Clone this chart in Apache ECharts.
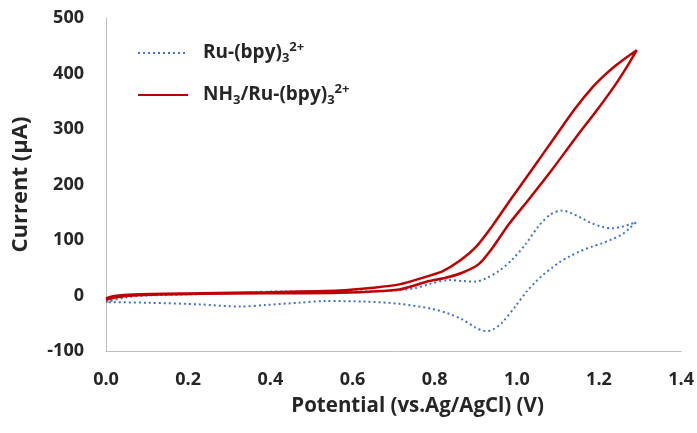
<!DOCTYPE html>
<html>
<head>
<meta charset="utf-8">
<script src="https://cdn.jsdelivr.net/npm/echarts@6/dist/echarts.min.js"></script>
<style>
html, body { margin: 0; padding: 0; background: #fff; }
#chart { width: 697px; height: 433px; }
</style>
</head>
<body>
<div id="chart"></div>
<script>
// Ru-(bpy)3 2+ : forward scan then reverse scan (one closed loop)
var ruPotential = [0, 0.05, 0.1, 0.2, 0.3, 0.4, 0.5, 0.6, 0.7, 0.75, 0.79, 0.835, 0.87, 0.9, 0.925, 0.956, 0.989, 1.021, 1.053, 1.082, 1.11, 1.134, 1.159, 1.183, 1.207, 1.231, 1.256, 1.274, 1.29,
                   1.274, 1.256, 1.231, 1.207, 1.183, 1.155, 1.13, 1.106, 1.086, 1.065, 1.045, 1.025, 0.997, 0.964, 0.94, 0.924, 0.9, 0.867, 0.835, 0.794, 0.714, 0.633, 0.536, 0.47, 0.39, 0.325, 0.228, 0.1, 0];
var ruCurrent = [-12, -3, 0, 2, 4, 7, 7, 7, 9, 13, 21, 28, 26, 25, 31, 44, 65, 92, 125, 146, 153, 148, 139, 130, 124, 121, 124, 128, 132,
                 121, 110, 101, 94, 88, 80, 71, 61, 50, 38, 24, 8, -19, -49, -62, -64, -58, -43, -33, -24, -15, -11, -10, -13, -17, -20, -16, -13, -12];

// NH3/Ru-(bpy)3 2+
var nh3Potential = [0, 0.02, 0.066, 0.228, 0.39, 0.568, 0.65, 0.714, 0.78, 0.82, 0.86, 0.9, 0.94, 0.985, 1.037, 1.094, 1.142, 1.185, 1.215, 1.24, 1.265, 1.292,
                    1.272, 1.24, 1.199, 1.142, 1.086, 1.03, 0.98, 0.94, 0.908, 0.867, 0.827, 0.786, 0.714, 0.568, 0.39, 0.228, 0.066, 0.02, 0];
var nh3Current = [-5, -1, 2, 4, 6, 9, 14, 20, 34, 44, 62, 87, 125, 173, 227, 287, 337, 376, 398, 414, 428, 442,
                  417, 380, 338, 283, 227, 174, 128, 85, 57, 41, 32, 26, 11, 5, 4, 3, 0, -4, -8];

var xTicks = [0, 0.2, 0.4, 0.6, 0.8, 1.0, 1.2, 1.4];
var yTicks = [-100, 0, 100, 200, 300, 400, 500];

function pairs(xs, ys) {
    var out = [];
    for (var i = 0; i < xs.length; i++) {
        out.push([xs[i], ys[i]]);
    }
    return out;
}

var myChart = echarts.init(document.getElementById('chart'));
var option = {
    animation: false,
    textStyle: { fontFamily: 'Open Sans' },
    grid: {
        left: 106,
        right: 14,
        top: 18,
        bottom: 82
    },
    legend: {
        orient: 'vertical',
        left: 137,
        top: 41,
        padding: 0,
        itemWidth: 50,
        itemHeight: 14,
        itemGap: 18,
        itemStyle: { opacity: 0 },
        data: ['Ru-(bpy)3 2+', 'NH3/Ru-(bpy)3 2+'],
        formatter: function (name) {
            if (name === 'Ru-(bpy)3 2+') {
                return '{main|Ru-(bpy)}{sub|3}{sup|2+}';
            }
            return '{main|NH}{sub|3}{main|/Ru-(bpy)}{sub|3}{sup|2+}';
        },
        textStyle: {
            padding: [0, 0, 0, 10],
            rich: {
                main: { fontFamily: 'Open Sans', fontWeight: 'bold', fontSize: 19, color: '#262626', lineHeight: 24 },
                sub: { fontFamily: 'Open Sans', fontWeight: 'bold', fontSize: 13, color: '#262626', verticalAlign: 'bottom', lineHeight: 11 },
                sup: { fontFamily: 'Open Sans', fontWeight: 'bold', fontSize: 13, color: '#262626', verticalAlign: 'top', lineHeight: 14 }
            }
        }
    },
    xAxis: {
        type: 'value',
        min: xTicks[0],
        max: xTicks[xTicks.length - 1],
        interval: 0.2,
        name: 'Potential (vs.Ag/AgCl) (V)',
        nameLocation: 'middle',
        nameGap: 45,
        nameTextStyle: { fontFamily: 'Open Sans', fontWeight: 'bold', fontSize: 20.5, color: '#262626', padding: [0, 0, 0, 48] },
        axisLine: { show: true, onZero: false, lineStyle: { color: '#bfbfbf', width: 1 } },
        axisTick: { show: false },
        splitLine: { show: false },
        axisLabel: {
            margin: 20,
            fontFamily: 'Open Sans', fontWeight: 'bold', fontSize: 18, color: '#262626',
            formatter: function (v) { return v.toFixed(1); }
        }
    },
    yAxis: {
        type: 'value',
        min: yTicks[0],
        max: yTicks[yTicks.length - 1],
        interval: 100,
        name: 'Current (μA)',
        nameLocation: 'middle',
        nameGap: 74,
        nameRotate: 90,
        nameTextStyle: { fontFamily: 'Open Sans', fontWeight: 'bold', fontSize: 22, color: '#262626' },
        axisLine: { show: true, onZero: false, lineStyle: { color: '#bfbfbf', width: 1 } },
        axisTick: { show: false },
        splitLine: { show: false },
        axisLabel: {
            margin: 22,
            fontFamily: 'Open Sans', fontWeight: 'bold', fontSize: 18, color: '#262626'
        }
    },
    series: [
        {
            name: 'Ru-(bpy)3 2+',
            type: 'line',
            data: pairs(ruPotential, ruCurrent),
            smooth: 0.3,
            symbol: 'none',
            lineStyle: { color: '#4472C4', width: 2, type: [2, 3] },
            itemStyle: { color: '#4472C4' }
        },
        {
            name: 'NH3/Ru-(bpy)3 2+',
            type: 'line',
            data: pairs(nh3Potential, nh3Current),
            smooth: 0.25,
            symbol: 'none',
            lineStyle: { color: '#C00000', width: 2.5 },
            itemStyle: { color: '#C00000' }
        }
    ]
};
myChart.setOption(option);
</script>
</body>
</html>
